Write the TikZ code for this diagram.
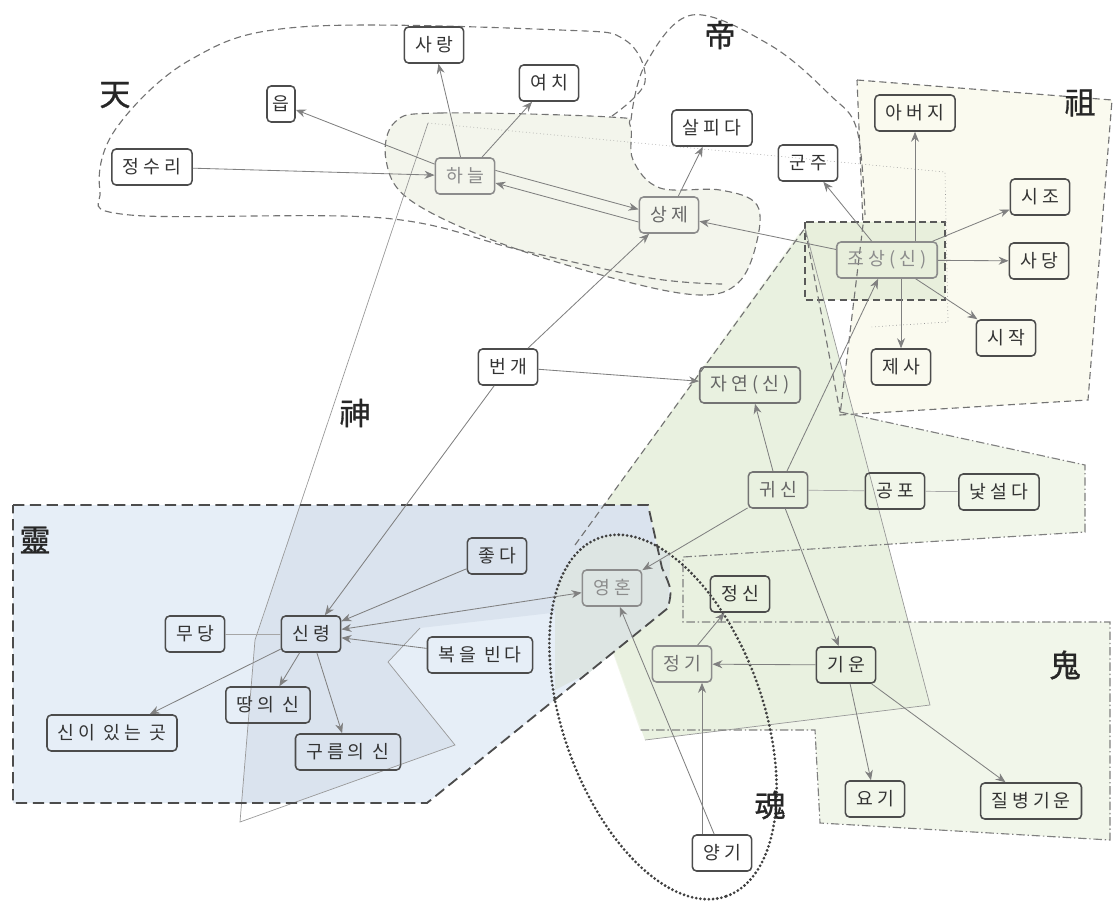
\documentclass[tikz,border=0pt]{standalone}
\usepackage{fontspec}
\usepackage{xcolor}
\usepackage{tikz}
\usetikzlibrary{arrows.meta}
\newfontfamily\kr[LetterSpace=22]{Noto Sans CJK KR}
\newfontfamily\hanja[FakeBold=1]{Noto Sans CJK KR}
\definecolor{jofill}{HTML}{FAFAEF}
\definecolor{skyfill}{HTML}{F3F5EC}
\definecolor{gwifill}{HTML}{F1F6EA}
\definecolor{natfill}{HTML}{E9F1E0}
\definecolor{lingfill}{HTML}{E6EEF7}
\definecolor{godfill}{HTML}{DAE3EE}
\definecolor{ancfill}{HTML}{E8EFDC}
\definecolor{soulfill}{HTML}{DDE5E3}
\tikzset{
  concept/.style={draw=black!70, line width=1.1pt, rounded corners=3pt,
    font=\kr\fontsize{13}{15}\selectfont, text=black!80,
    minimum height=0.9cm, inner xsep=0.27cm},
  faded/.style={concept, draw=black!45, text=black!45},
  link/.style={draw=black!50, line width=0.6pt, -{Stealth[length=2.5mm,width=2mm]}},
  tie/.style={draw=black!35, line width=0.5pt},
  zonedash/.style={draw=black!55, line width=0.8pt, dash pattern=on 5pt off 3pt},
  lingdash/.style={draw=black!70, line width=1.3pt, dash pattern=on 8pt off 4pt},
  ghostdash/.style={draw=black!50, line width=0.8pt, dash pattern=on 6pt off 2pt on 1pt off 2pt},
  godline/.style={draw=black!40, line width=0.5pt},
  souldots/.style={draw=black!75, line width=2.2pt, line cap=round, dash pattern=on 0pt off 3pt},
  hanjalabel/.style={font=\hanja\fontsize{22}{22}\selectfont, text=black!85},
}

\begin{document}
\begin{tikzpicture}[x=0.025cm, y=-0.025cm]
  \useasboundingbox (0,0) rectangle (1115,901);
  % zone fills
  \fill[jofill] (857,80) -- (1112,100) -- (1088,400) -- (840,415) -- (863,225) -- cycle;
  \fill[skyfill] plot[smooth cycle, tension=0.6] coordinates {(610,117) (440,113) (395,122) (386,160) (410,200) (500,243) (620,280) (700,295) (738,283) (756,245) (757,205) (720,190) (660,188) (633,160) (630,125)};
  \fill[gwifill] (575,545) -- (800,232) -- (840,412) -- (1085,465) -- (1085,532) -- (683,557) -- (683,622) -- (1110,622) -- (1110,840) -- (820,823) -- (815,730) -- (640,730) -- cycle;
  \fill[natfill] (575,545) -- (805,228) -- (930,705) -- (645,740) -- cycle;
  \fill[lingfill] (13,505) -- (648,505) -- (662,568) .. controls (672,590) .. (668,608) -- (427,803) -- (13,803) -- cycle;
  \begin{scope}
    \clip (13,505) -- (648,505) -- (662,568) .. controls (672,590) .. (668,608) -- (427,803) -- (13,803) -- cycle;
    \fill[godfill] (300,505) -- (648,505) -- (665,600) -- (420,628) -- (388,662) -- (455,745) -- (240,822) -- (255,640) -- cycle;
  \end{scope}
  \begin{scope}
    \clip plot[domain=0:360, samples=120, smooth] ({663+190*cos(\x)*0.334+100*sin(\x)*0.943}, {717+190*cos(\x)*0.943-100*sin(\x)*0.334});
    \fill[soulfill] (555,520) -- (672,520) -- (668,608) -- (590,672) -- (555,690) -- cycle;
  \end{scope}
  \fill[ancfill] (805,222) rectangle (945,300);

  % zone outlines
  \draw[zonedash] plot[smooth, tension=0.6] coordinates {(612,116) (645,82) (625,40) (560,30) (300,27) (190,60) (115,130) (100,190) (130,215) (383,218) (520,250) (650,278) (722,284)};
  \draw[zonedash] plot[smooth cycle, tension=0.6] coordinates {(610,117) (440,113) (395,122) (386,160) (410,200) (500,243) (620,280) (700,295) (738,283) (756,245) (757,205) (720,190) (660,188) (633,160) (630,125)};
  \draw[zonedash] plot[smooth, tension=0.6] coordinates {(631,120) (645,65) (692,15) (770,45) (830,95) (857,130) (865,215)};
  \draw[zonedash] (857,80) -- (1112,100) -- (1088,400) -- (840,415) -- (863,225) -- cycle;
  \draw[zonedash, draw=black!65, line width=1pt] (805,222) rectangle (945,300);
  \draw[godline, dotted] (428,123) -- (945,172) -- (948,322) -- (870,327);
  \draw[godline] (428,123) -- (255,640) -- (240,822) -- (455,745) -- (388,662) -- (420,628);
  \draw[zonedash] (575,545) -- (805,228) -- (840,412);
  \draw[godline] (805,228) -- (930,705) -- (645,740);
  \draw[ghostdash] (840,412) -- (1085,465) -- (1085,532) -- (683,557) -- (683,622) -- (1110,622) -- (1110,840) -- (820,823) -- (815,730) -- (640,730);
  \draw[lingdash] (13,505) -- (648,505) -- (662,568) .. controls (672,590) .. (668,608) -- (427,803) -- (13,803) -- cycle;
  \draw[souldots] plot[domain=0:360, samples=120, smooth] ({663+190*cos(\x)*0.334+100*sin(\x)*0.943}, {717+190*cos(\x)*0.943-100*sin(\x)*0.334});

  % labels
  \node[hanjalabel] (tian) at (115,95) {天};
  \node[hanjalabel] (di) at (720,35) {帝};
  \node[hanjalabel] (zu) at (1080,103) {祖};
  \node[hanjalabel] (shen) at (355,413) {神};
  \node[hanjalabel] (ling) at (35,540) {靈};
  \node[hanjalabel] (gui) at (1065,665) {鬼};
  \node[hanjalabel] (hun) at (770,805) {魂};

  % concepts
  \node[concept] (sarang) at (434,45) {사랑};
  \node[concept] (yeochi) at (549,83) {여치};
  \node[concept, inner xsep=0.14cm] (eup) at (281,104) {읍};
  \node[concept] (jeongsuri) at (152,167) {정수리};
  \node[faded] (haneul) at (465,176) {하늘};
  \node[faded, text=black!60] (sangje) at (669,215) {상제};
  \node[concept] (salpida) at (712,128) {살피다};
  \node[concept] (gunju) at (808,163) {군주};
  \node[concept] (abeoji) at (915,113) {아버지};
  \node[concept] (sijo) at (1040,197) {시조};
  \node[concept] (sadang) at (1039,261) {사당};
  \node[faded] (josang) at (887,260) {조상(신)};
  \node[concept] (sijak) at (1006,338) {시작};
  \node[concept] (jesa) at (901,367) {제사};
  \node[concept] (bungae) at (508,367) {번개};
  \node[faded, text=black!60, draw=black!55] (jayeon) at (750,385) {자연(신)};
  \node[faded, text=black!60, draw=black!55] (gwisin) at (778,490) {귀신};
  \node[concept] (gongpo) at (895,491) {공포};
  \node[concept] (natseolda) at (999,492) {낯설다};
  \node[concept] (jota) at (497,556) {좋다};
  \node[faded] (yeonghon) at (612,588) {영혼};
  \node[concept] (jeongsin) at (740,594) {정신};
  \node[concept] (mudang) at (195,634) {무당};
  \node[concept] (sinryeong) at (311,634) {신령};
  \node[concept] (bokeul) at (480,655) {복을 빈다};
  \node[faded, text=black!55] (jeonggi) at (682,664) {정기};
  \node[concept] (giun) at (846,665) {기운};
  \node[concept] (ttang) at (268,705) {땅의 신};
  \node[concept] (sinyi) at (112,733) {신이 있는 곳};
  \node[concept] (gureum) at (348,752) {구름의 신};
  \node[concept] (yogi) at (875,799) {요기};
  \node[concept] (jilbyeong) at (1031,801) {질병기운};
  \node[concept] (yanggi) at (722,853) {양기};

  % connectors
  \draw[link] (jeongsuri) -- (haneul);
  \draw[link] (haneul) -- (eup);
  \draw[link] (haneul) -- (sarang);
  \draw[link] (haneul) -- (yeochi);
  \draw[link] ([yshift=4pt]haneul.east) -- ([yshift=4pt]sangje.west);
  \draw[link] ([yshift=-5pt]sangje.west) -- ([yshift=-5pt]haneul.east);
  \draw[link] (sangje) -- (salpida);
  \draw[link] (josang) -- (sangje);
  \draw[link] (josang) -- (gunju);
  \draw[link] (abeoji |- josang.north) -- (abeoji.south);
  \draw[link] (jesa |- josang.south) -- (jesa.north);
  \draw[link] (josang) -- (sijo);
  \draw[link] (josang) -- (sadang);
  \draw[link] (josang) -- (sijak);
  \draw[link] (bungae) -- (sangje);
  \draw[link] (bungae) -- (sinryeong);
  \draw[link] (bungae) -- (jayeon);
  \draw[link] (gwisin) -- (jayeon);
  \draw[link] (gwisin) -- (josang);
  \draw[link] (gwisin) -- (yeonghon);
  \draw[link] (gwisin) -- (giun);
  \draw[tie] (gwisin) -- (gongpo);
  \draw[tie] (gongpo) -- (natseolda);
  \draw[link] (giun) -- (jeonggi);
  \draw[link] (jeonggi) -- (jeongsin);
  \draw[link] ([xshift=-0.5cm]yanggi.north) coordinate (yg) -- (yg |- jeonggi.south);
  \draw[link] (yanggi) -- (yeonghon);
  \draw[link] (giun) -- (yogi);
  \draw[link] (giun) -- (jilbyeong);
  \draw[link] (jota) -- (sinryeong);
  \draw[link] (bokeul) -- (sinryeong);
  \draw[link, {Stealth[length=2.5mm,width=2mm]}-{Stealth[length=2.5mm,width=2mm]}] (sinryeong) -- (yeonghon);
  \draw[tie] (mudang) -- (sinryeong);
  \draw[link] (sinryeong) -- (sinyi);
  \draw[link] (sinryeong) -- (ttang);
  \draw[link] (sinryeong) -- (gureum);
\end{tikzpicture}
\end{document}
